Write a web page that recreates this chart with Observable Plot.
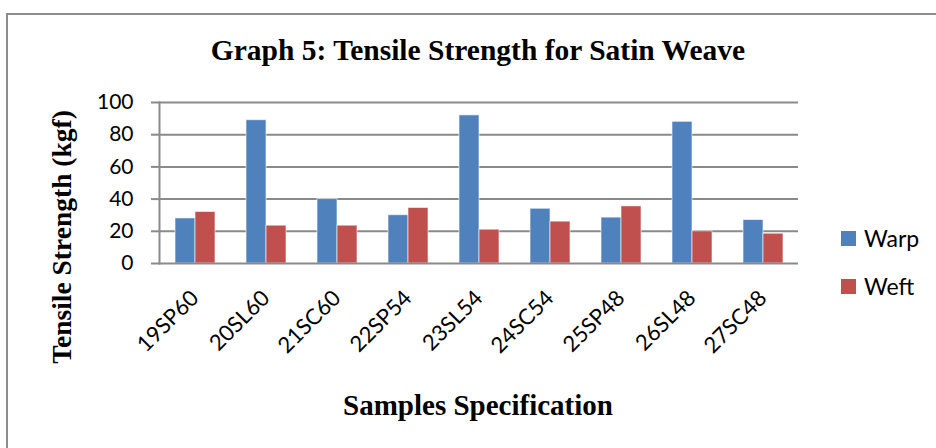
<!DOCTYPE html>
<html>
<head>
<meta charset="utf-8">
<script src="https://cdn.jsdelivr.net/npm/d3@7"></script>
<script src="https://cdn.jsdelivr.net/npm/@observablehq/plot@0.6"></script>
<style>
  body { margin: 0; background: #fff; }
  #wrap { position: relative; width: 936px; height: 448px; overflow: hidden; background: #fff; }
  #frame { position: absolute; left: 6px; top: 13px; width: 960px; height: 470px; border: 2px solid #8c8c8c; box-sizing: border-box; }
  #chart { position: absolute; left: 0; top: 0; }
  .serif { position: absolute; font-family: "Liberation Serif", "Times New Roman", serif; font-weight: bold; color: #000; white-space: nowrap; line-height: 1; }
  #title { left: 0; width: 956px; top: 35.5px; text-align: center; font-size: 29.5px; }
  #xlab { left: 0; width: 956px; top: 391px; text-align: center; font-size: 29px; }
  #ylab { left: 62px; top: 237px; font-size: 27.5px; transform: translate(-50%, -50%) rotate(-90deg); }
  #legend { position: absolute; left: 841px; top: 226px; font-family: Lato, sans-serif; font-size: 23px; color: #000; }
  .item { display: flex; align-items: center; height: 24px; margin-bottom: 24px; }
  .sw { width: 15px; height: 15px; margin-right: 8px; }
</style>
</head>
<body>
<div id="wrap">
  <div id="frame"></div>
  <div id="chart"></div>
  <div id="title" class="serif">Graph 5: Tensile Strength for Satin Weave</div>
  <div id="ylab" class="serif">Tensile Strength (kgf)</div>
  <div id="xlab" class="serif">Samples Specification</div>
  <div id="legend"></div>
</div>
<script>
const samples = ["19SP60", "20SL60", "21SC60", "22SP54", "23SL54", "24SC54", "25SP48", "26SL48", "27SC48"];
const series = ["Warp", "Weft"];
const warp = [28, 89, 40, 30, 92, 34, 28.5, 88, 27];
const weft = [32, 23.5, 23.5, 34.5, 21, 26, 35.5, 20, 18.5];
const yTicks = [0, 20, 40, 60, 80, 100];
const colors = ["#4F81BD", "#C0504D"];

const rows = [];
samples.forEach((s, i) => {
  rows.push({sample: s, series: "Warp", value: warp[i]});
  rows.push({sample: s, series: "Weft", value: weft[i]});
});

const chart = Plot.plot({
  width: 936,
  height: 448,
  marginLeft: 159,
  marginRight: 138,
  marginTop: 102,
  marginBottom: 185,
  style: {fontFamily: "Lato, sans-serif", color: "#000", background: "transparent", overflow: "visible"},
  fx: {domain: samples, padding: 0, label: null},
  x: {domain: series, axis: null, paddingInner: 0, paddingOuter: 0.775},
  y: {domain: [0, 100], label: null},
  color: {domain: series, range: colors},
  marks: [
    Plot.ruleY(yTicks.filter(d => d > 0), {stroke: "#8a8a8a", strokeWidth: 2}),
    Plot.barY(rows, {fx: "sample", x: "series", y: "value", fill: "series", stroke: "#ffffff", strokeOpacity: 0.6, strokeWidth: 1}),
    Plot.ruleY([0], {stroke: "#8a8a8a", strokeWidth: 2}),
    Plot.frame({anchor: "left", facetAnchor: "left", stroke: "#8a8a8a", strokeWidth: 2}),
    Plot.axisY({ticks: yTicks, tickSize: 8, tickPadding: 18, stroke: "#8a8a8a", strokeWidth: 2, strokeOpacity: 1, label: null, fontSize: 21}),
    Plot.axisFx({anchor: "bottom", tickRotate: -45, tickSize: 0, tickPadding: 31, label: null, fontSize: 22})
  ]
});
document.getElementById("chart").appendChild(chart);

const legend = document.getElementById("legend");
series.forEach((s, i) => {
  const item = document.createElement("div");
  item.className = "item";
  item.innerHTML = `<div class="sw" style="background:${colors[i]}"></div><span>${s}</span>`;
  legend.appendChild(item);
});
</script>
</body>
</html>
